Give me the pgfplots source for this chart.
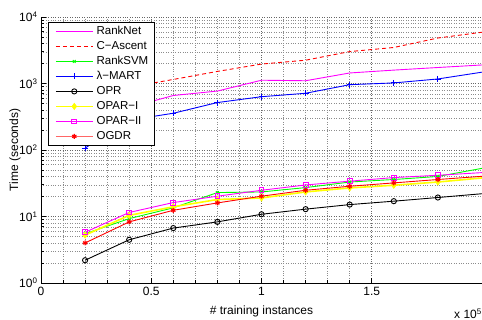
\documentclass[border=0pt]{standalone}
\usepackage{fontspec}
\setmainfont{Liberation Sans}
\usepackage{pgfplots}
\pgfplotsset{compat=1.18}
\definecolor{mymag}{RGB}{255,0,255}
\definecolor{myyel}{RGB}{255,255,0}
\definecolor{mygrn}{RGB}{0,255,0}
\begin{document}
\begin{tikzpicture}
\path[use as bounding box] (0,0) rectangle (482pt,320pt);
\begin{axis}[
  at={(41pt,37pt)}, anchor=south west,
  scale only axis, width=441pt, height=266pt,
  xmin=0, xmax=2, ymin=1, ymax=10000, ymode=log,
  axis x line*=bottom, axis y line*=left,
  axis line style={line width=0.8pt},
  xtick={0,0.5,1,1.5}, xticklabels={0,0.5,1,1.5},
  minor x tick num=4,
  ytick={1,10,100,1000,10000},
  yticklabels={10\textsuperscript{0},10\textsuperscript{1},10\textsuperscript{2},10\textsuperscript{3},10\textsuperscript{4}},
  tick align=inside,
  major tick length=5pt, minor tick length=3pt,
  tick style={black, line width=0.6pt},
  grid=both,
  major grid style={dotted, line width=0.6pt, black!60},
  minor grid style={dotted, line width=0.5pt, black!45},
  tick label style={font=\fontsize{12}{14}\selectfont},
  xticklabel style={yshift=-1pt},
  xlabel={\# training instances},
  ylabel={Time (seconds)},
  label style={font=\fontsize{12}{14}\selectfont},
  xlabel style={at={(axis description cs:0.5,0)}, anchor=center, yshift=-28pt},
  ylabel style={at={(axis description cs:0,0.5)}, anchor=center, yshift=26pt},
  legend style={at={(axis description cs:0.015,0.981)}, anchor=north west,
    draw=black, line width=0.7pt, fill=white, inner xsep=3pt, inner ysep=1.5pt,
    font=\fontsize{11.5}{13}\selectfont,
    nodes={inner ysep=2pt, inner xsep=3pt, text height=8.5pt, text depth=2.5pt},
    cells={anchor=west}, row sep=0pt},
  every axis plot/.append style={line width=0.9pt, mark indices={1,2,3,4,5,6,7,8,9}},
]
\addplot[color=mymag, mark=none,
  legend image code/.code={\path (2pt,0pt); \draw[draw=mymag, line width=1.2pt] (6pt,0pt) -- (43pt,0pt);}]
  coordinates {(0.2,350)(0.4,435)(0.6,660)(0.8,770)(1.0,1120)(1.2,1100)(1.4,1440)(1.6,1590)(1.8,1740)(2.0,1900)};
\addlegendentry{RankNet}
\addplot[color=red, dash pattern=on 4pt off 3pt, mark=none,
  legend image code/.code={\path (2pt,0pt); \draw[draw=red, line width=0.9pt, dash pattern=on 4pt off 3pt] (6pt,0pt) -- (43pt,0pt);}]
  coordinates {(0.2,650)(0.4,880)(0.6,1150)(0.8,1520)(1.0,1960)(1.2,2240)(1.4,3020)(1.6,3480)(1.8,4830)(2.0,5900)};
\addlegendentry{C−Ascent}
\addplot[color=mygrn, mark=x, mark size=2pt,
  legend image code/.code={\path (2pt,0pt); \draw[draw=mygrn, line width=0.9pt] (6pt,0pt) -- (43pt,0pt);
    \draw[draw=mygrn, line width=0.9pt] plot[mark=x, mark size=2pt] coordinates {(24.5pt,0pt)};}]
  coordinates {(0.2,5.5)(0.4,9.3)(0.6,13.5)(0.8,22.9)(1.0,23.4)(1.2,27.2)(1.4,33)(1.6,36)(1.8,40)(2.0,53)};
\addlegendentry{RankSVM}
\addplot[color=blue, mark=+, mark size=3pt,
  legend image code/.code={\path (2pt,0pt); \draw[draw=blue, line width=0.9pt] (6pt,0pt) -- (43pt,0pt);
    \draw[draw=blue, line width=0.9pt] plot[mark=+, mark size=3pt] coordinates {(24.5pt,0pt)};}]
  coordinates {(0.2,107)(0.4,281)(0.6,357)(0.8,517)(1.0,633)(1.2,713)(1.4,960)(1.6,1020)(1.8,1170)(2.0,1480)};
\addlegendentry{λ−MART}
\addplot[color=black, mark=o, mark size=2.6pt,
  legend image code/.code={\path (2pt,0pt); \draw[draw=black, line width=0.9pt] (6pt,0pt) -- (43pt,0pt);
    \draw[draw=black, line width=0.9pt] plot[mark=o, mark size=2.6pt] coordinates {(24.5pt,0pt)};}]
  coordinates {(0.2,2.2)(0.4,4.47)(0.6,6.7)(0.8,8.3)(1.0,10.8)(1.2,12.9)(1.4,15.1)(1.6,17)(1.8,19.3)(2.0,22)};
\addlegendentry{OPR}
\addplot[color=myyel, line width=1.6pt, mark=diamond*, mark size=3pt, mark options={fill=myyel, line width=0.8pt},
  legend image code/.code={\path (2pt,0pt); \draw[draw=myyel, line width=1.6pt] (6pt,0pt) -- (43pt,0pt);
    \draw[draw=myyel, fill=myyel, line width=0.8pt] plot[mark=diamond*, mark size=3pt] coordinates {(24.5pt,0pt)};}]
  coordinates {(0.2,5.25)(0.4,10.4)(0.6,14)(0.8,18)(1.0,19)(1.2,23.4)(1.4,26.9)(1.6,29.5)(1.8,33)(2.0,38)};
\addlegendentry{OPAR−I}
\addplot[color=mymag, mark=square, mark size=2.4pt,
  legend image code/.code={\path (2pt,0pt); \draw[draw=mymag, line width=0.9pt] (6pt,0pt) -- (43pt,0pt);
    \draw[draw=mymag, line width=0.9pt] plot[mark=square, mark size=2.4pt] coordinates {(24.5pt,0pt)};}]
  coordinates {(0.2,5.8)(0.4,11.5)(0.6,16.2)(0.8,20.2)(1.0,24.8)(1.2,29.8)(1.4,34)(1.6,38.5)(1.8,41.7)(2.0,45.7)};
\addlegendentry{OPAR−II}
\addplot[color=red, mark=asterisk, mark size=2.5pt, mark options={line width=1.2pt},
  legend image code/.code={\path (2pt,0pt); \draw[draw=red, line width=1.4pt, opacity=0.6] (6pt,0pt) -- (43pt,0pt);
    \draw[draw=red, line width=1.2pt] plot[mark=asterisk, mark size=2.5pt] coordinates {(24.5pt,0pt)};}]
  coordinates {(0.2,4.0)(0.4,8.3)(0.6,12.4)(0.8,16)(1.0,20.2)(1.2,24.8)(1.4,28.5)(1.6,32)(1.8,36)(2.0,40.2)};
\addlegendentry{OGDR}
\end{axis}
\node[anchor=base west, inner sep=0pt, font=\fontsize{12}{14}\selectfont] at (454pt,1.5pt) {x 10\textsuperscript{5}};
\end{tikzpicture}
\end{document}
